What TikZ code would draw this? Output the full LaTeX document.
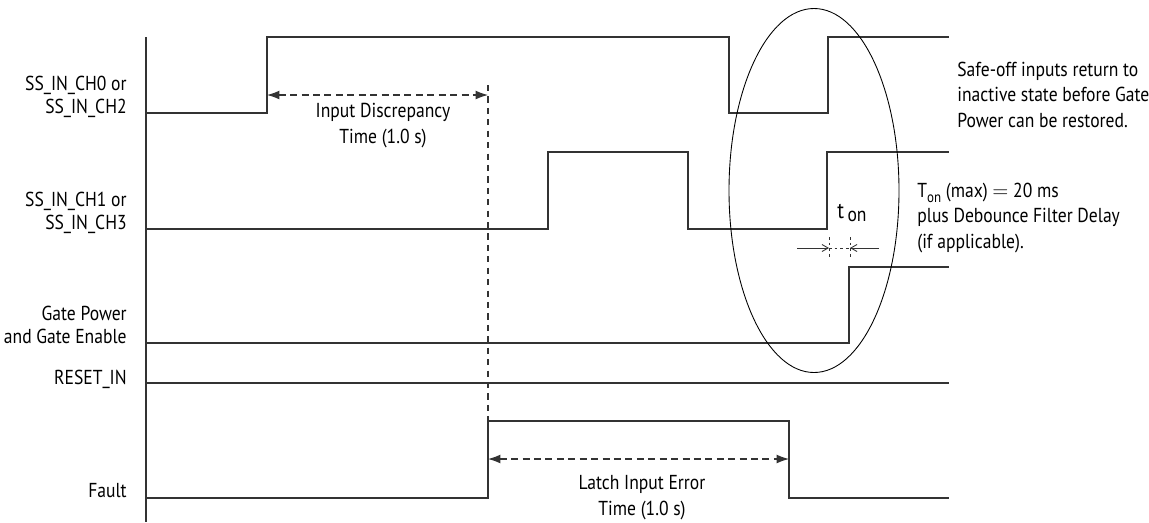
\documentclass[tikz,border=0pt]{standalone}
\usepackage{fontspec}
\setmainfont[FakeStretch=0.87]{PT Sans}
\usetikzlibrary{arrows.meta}
\definecolor{wave}{HTML}{333333}

\begin{document}
\begin{tikzpicture}[x=0.02cm, y=-0.02cm,
  signal/.style={line width=0.75pt, wave},
  dim/.style={line width=0.6pt, wave, dash pattern=on 4pt off 2.5pt,
              {Latex[length=7pt,width=5pt]}-{Latex[length=7pt,width=5pt]}},
  guide/.style={line width=0.6pt, wave, dash pattern=on 3.5pt off 3pt},
  tick/.style={line width=0.4pt, wave, dash pattern=on 1.6pt off 1.6pt},
  tip/.style={line width=0.5pt, wave, -{Straight Barb[length=3.5pt,width=4pt]}},
  label/.style={font=\fontsize{11.5}{13}\selectfont, align=right, anchor=base east, inner sep=0pt},
  note/.style={font=\fontsize{11.5}{14.3}\selectfont, align=left, anchor=base west, inner sep=0pt},
  dimtext/.style={font=\fontsize{11.5}{14.5}\selectfont, align=center, anchor=base, inner sep=0pt},
]
\useasboundingbox (0,0) rectangle (1149,522);

% signal names (anchored at the baseline of the last line)
\node[label] (ch0) at (127,113) {SS\_IN\_CH0 or\\SS\_IN\_CH2};
\node[label] (ch1) at (127,229) {SS\_IN\_CH1 or\\SS\_IN\_CH3};
\node[label] (gate) at (127,343) {Gate Power\\and Gate Enable};
\node[label] (reset) at (127,384) {RESET\_IN};
\node[label] (fault) at (127,497) {Fault};

% time axis and waveforms
\draw[signal] (146,37) -- (146,522);
\draw[signal] (146,113) -- (267,113) -- (267,37) -- (729,37) -- (729,113)
  -- (828,113) -- (828,37) -- (949,37);
\draw[signal] (146,229) -- (548,229) -- (548,152) -- (688,152) -- (688,229)
  -- (827,229) -- (827,152) -- (949,152);
\draw[signal] (146,343) -- (849,343) -- (849,267) -- (949,267);
\draw[signal] (146,383) -- (949,383);
\draw[signal] (146,498) -- (488,498) -- (488,421) -- (789,421) -- (789,498)
  -- (949,498);

% discrepancy and latch times
\coordinate (discA) at (267,95);
\coordinate (discB) at (488,95);
\coordinate (latchA) at (488,459);
\coordinate (latchB) at (789,459);
\draw[dim] (discA) -- (discB);
\draw[guide] (488,85) -- (488,421);
\draw[dim] (latchA) -- (latchB);
\node[dimtext] (disc) at (383,143) {Input Discrepancy\\Time (1.0 s)};
\node[dimtext] (latch) at (642,515) {Latch Input Error\\Time (1.0 s)};

% t on
\coordinate (tonA) at (829,248);
\coordinate (tonB) at (850,248);
\draw[tick] (829,237) -- (829,259);
\draw[tick] (850,237) -- (850,259);
\draw[tip] (797,248) -- (tonA);
\draw[tip] (879,248) -- (tonB);
\draw[tick] (tonA) -- (tonB);
\node[dimtext] (ton) at (852,218) {{\fontsize{13}{14}\selectfont t}\,\raisebox{-0.3ex}{on}};

% circled region
\draw[line width=0.5pt, black] (814,190.5) ellipse [x radius=85, y radius=182];

% notes
\node[note] (safe) at (957,127) {Safe-off inputs return to\\inactive state before Gate\\Power can be restored.};
\node[note] (tmax) at (917,248) {T\raisebox{-0.45ex}{\fontsize{8.5}{9}\selectfont on} (max) $=$ 20 ms\\plus Debounce Filter Delay\\(if applicable).};
\end{tikzpicture}
\end{document}
